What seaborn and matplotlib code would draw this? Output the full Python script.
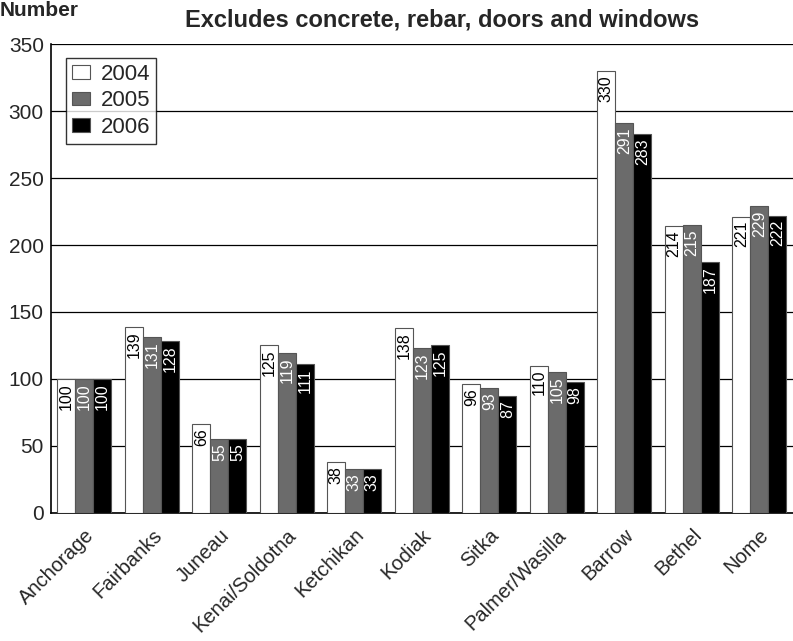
import pandas as pd
import matplotlib.pyplot as plt
import seaborn as sns

# Data
cities = ["Anchorage", "Fairbanks", "Juneau", "Kenai/Soldotna", "Ketchikan",
          "Kodiak", "Sitka", "Palmer/Wasilla", "Barrow", "Bethel", "Nome"]
years = ["2004", "2005", "2006"]
v2004 = [100, 139, 66, 125, 38, 138, 96, 110, 330, 214, 221]
v2005 = [100, 131, 55, 119, 33, 123, 93, 105, 291, 215, 229]
v2006 = [100, 128, 55, 111, 33, 125, 87, 98, 283, 187, 222]

df = pd.DataFrame({
    "City": cities * 3,
    "Year": [years[0]] * 11 + [years[1]] * 11 + [years[2]] * 11,
    "Value": v2004 + v2005 + v2006,
})

# Style
sns.set_theme(style="white")
plt.rcParams["font.family"] = ["Liberation Sans", "DejaVu Sans"]

fig, ax = plt.subplots(figsize=(7.93, 6.41), dpi=100)
fig.subplots_adjust(left=0.064, right=1.0, top=0.931, bottom=0.2)

palette = {"2004": "white", "2005": "#6b6b6b", "2006": "black"}
sns.barplot(data=df, x="City", y="Value", hue="Year", palette=palette,
            width=0.8, edgecolor="#555555", linewidth=0.8, saturation=1,
            ax=ax, zorder=3)

# Value labels inside bars
text_colors = ["black", "white", "white"]
for cont, col in zip(ax.containers, text_colors):
    labels = ax.bar_label(cont, fmt="%d", padding=-3, rotation=90,
                          fontsize=11.5, color=col)
    for t in labels:
        t.set_va("top")

ax.set_ylim(0, 350)
ax.set_yticks(range(0, 351, 50))
ax.yaxis.grid(True, color="black", linewidth=0.9, zorder=0)
ax.set_xlabel("")
ax.set_ylabel("")
ax.tick_params(axis="y", labelsize=15, length=0, pad=5)
ax.tick_params(axis="x", labelsize=14.5, length=0, pad=9)
plt.setp(ax.get_xticklabels(), rotation=45, ha="right", rotation_mode="anchor")

for s in ["top", "right"]:
    ax.spines[s].set_visible(False)
for s in ["left", "bottom"]:
    ax.spines[s].set_color("black")
    ax.spines[s].set_linewidth(1.2)

ax.set_title("Excludes concrete, rebar, doors and windows",
             fontsize=17, fontweight="bold", pad=13, x=0.527)
fig.text(0.0, 0.998, "Number", fontsize=15, fontweight="bold",
         ha="left", va="top")

leg = ax.legend(loc="upper left", bbox_to_anchor=(0.021, 0.97), fontsize=16,
                frameon=True, fancybox=False, edgecolor="black",
                handlelength=0.8, handleheight=0.55, handletextpad=0.5,
                borderpad=0.25, labelspacing=0.25, borderaxespad=0)
leg.get_frame().set_linewidth(1)

plt.savefig("out.png", dpi=100)
